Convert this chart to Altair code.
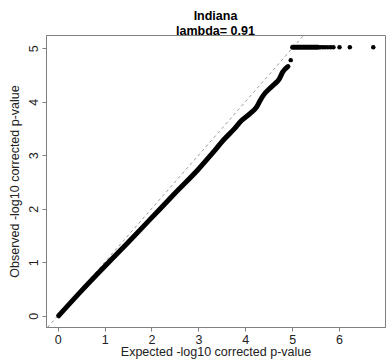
import altair as alt
import pandas as pd

# Dense part of the QQ curve (expected vs observed -log10 p)
curve_x = [0.02, 0.5, 1.0, 1.5, 2.0, 2.5, 3.0, 3.3, 3.55, 3.75, 3.92, 4.1, 4.24, 4.32, 4.4, 4.52, 4.62, 4.72, 4.8, 4.91]
curve_y = [0.0, 0.46, 0.92, 1.37, 1.83, 2.29, 2.74, 3.04, 3.30, 3.48, 3.65, 3.78, 3.90, 4.03, 4.14, 4.25, 4.33, 4.42, 4.56, 4.66]

# Dense plateau of capped observed values
plateau_x = [5.01, 5.55]
plateau_y = [5.02, 5.02]

# Individual points
dot_x = [4.97, 5.60, 5.65, 5.70, 5.76, 5.82, 5.88, 6.01, 6.23, 6.73]
dot_y = [4.78, 5.02, 5.02, 5.02, 5.02, 5.02, 5.02, 5.02, 5.02, 5.02]

# Reference line y = x
ref_x = [-0.3, 5.4]

x_ticks = [0, 1, 2, 3, 4, 5, 6]
y_ticks = [0, 1, 2, 3, 4, 5]

FONT = "Liberation Sans"
FS = 12.5
xdom = [-0.25, 6.98]
ydom = [-0.21, 5.25]

curve_df = pd.DataFrame({"x": curve_x, "y": curve_y, "o": range(len(curve_x))})
plateau_df = pd.DataFrame({"x": plateau_x, "y": plateau_y, "o": range(len(plateau_x))})
dot_df = pd.DataFrame({"x": dot_x, "y": dot_y})
ref_df = pd.DataFrame({"x": ref_x, "y": ref_x})

xs = alt.Scale(domain=xdom, nice=False, zero=False)
ys = alt.Scale(domain=ydom, nice=False, zero=False)

xaxis = alt.Axis(values=x_ticks, title="Expected -log10 corrected p-value", grid=False,
                 tickSize=4, labelPadding=2, titlePadding=0, format="d",
                 labelFont=FONT, titleFont=FONT, labelFontSize=FS, titleFontSize=FS,
                 labelColor="#222222", titleColor="#222222", titleFontWeight="normal",
                 domainColor="#808080", tickColor="#808080")
yaxis = alt.Axis(values=y_ticks, title="Observed -log10 corrected p-value", grid=False,
                 tickSize=4, labelPadding=5, labelAngle=270, labelAlign="center",
                 labelBaseline="alphabetic", titlePadding=6, format="d",
                 labelFont=FONT, titleFont=FONT, labelFontSize=FS, titleFontSize=FS,
                 labelColor="#222222", titleColor="#222222", titleFontWeight="normal",
                 domainColor="#808080", tickColor="#808080")

ref = alt.Chart(ref_df).mark_line(color="#9a9a9a", strokeDash=[3, 3], strokeWidth=1, clip=True).encode(
    x=alt.X("x:Q", scale=xs, axis=xaxis),
    y=alt.Y("y:Q", scale=ys, axis=yaxis),
)

curve = alt.Chart(curve_df).mark_line(color="black", strokeWidth=5, strokeCap="round",
                                      strokeJoin="round", interpolate="monotone").encode(
    x=alt.X("x:Q", scale=xs), y=alt.Y("y:Q", scale=ys), order="o:Q"
)

plateau = alt.Chart(plateau_df).mark_line(color="black", strokeWidth=5, strokeCap="round").encode(
    x=alt.X("x:Q", scale=xs), y=alt.Y("y:Q", scale=ys), order="o:Q"
)

dots = alt.Chart(dot_df).mark_circle(color="black", size=20, opacity=1).encode(
    x=alt.X("x:Q", scale=xs), y=alt.Y("y:Q", scale=ys)
)

chart = alt.layer(ref, curve, plateau, dots).properties(
    width=339, height=292,
    padding={"left": 46, "top": 35, "right": 1, "bottom": 32},
    autosize=alt.AutoSizeParams(type="none"),
    background="white",
    title=alt.TitleParams(text=["Indiana", "lambda= 0.91"], font=FONT, fontSize=FS,
                          fontWeight="bold", color="black", lineHeight=15, offset=-2,
                          anchor="middle"),
).configure_view(stroke="#808080", strokeWidth=1)

chart.save("out.html", embed_options={"renderer": "svg", "actions": False})
